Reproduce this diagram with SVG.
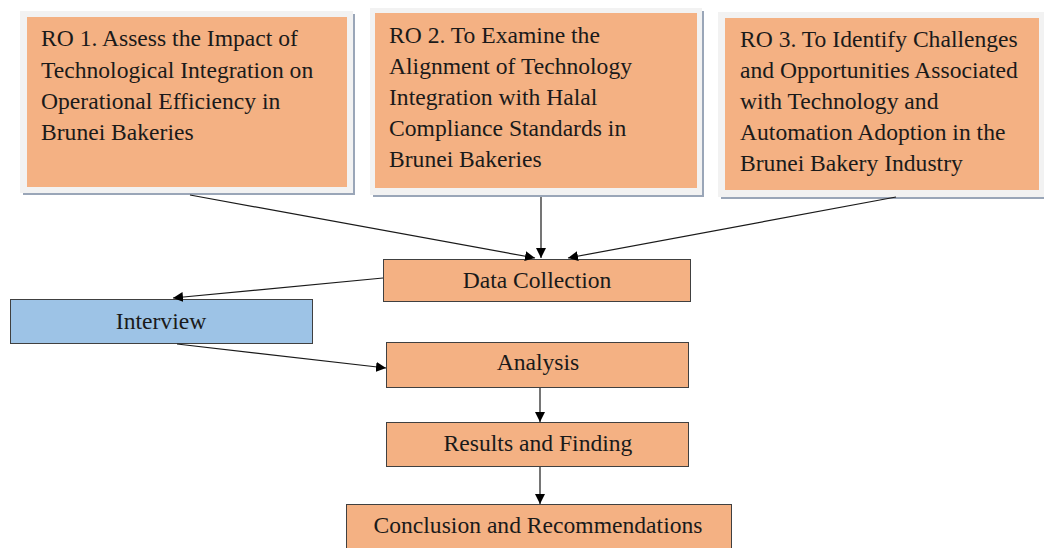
<svg xmlns="http://www.w3.org/2000/svg" width="1044" height="548" viewBox="0 0 1044 548">
<style>
.t{font-family:"Liberation Serif","Times New Roman",serif;font-size:23.6px;fill:#1a1a1a}
.c{text-anchor:middle}
.frame{fill:#f2f2f2}
.shadow{fill:#9aa6b8}
.ro{fill:#f4b183}
.box{fill:#f4b183;stroke:#404040;stroke-width:1}
.blue{fill:#9dc3e6;stroke:#404040;stroke-width:1}
.ln{stroke:#1a1a1a;stroke-width:1.2;fill:none;marker-end:url(#ah)}
</style>
<defs>
<marker id="ah" viewBox="0 0 10 10" refX="10" refY="5" markerWidth="10" markerHeight="10" markerUnits="userSpaceOnUse" orient="auto">
<path d="M0,0 L10,5 L0,10 z" fill="#000"/>
</marker>
</defs>
<rect width="1044" height="548" fill="#fff"/>
<g id="ro1">
<rect class="shadow" x="23" y="14" width="332" height="181"/>
<rect class="frame" x="20" y="11" width="333" height="182"/>
<rect class="ro" x="27" y="17" width="320" height="170"/>
<text class="t" x="41" y="46">RO 1. Assess the Impact of</text>
<text class="t" x="41" y="78">Technological Integration on</text>
<text class="t" x="41" y="109">Operational Efficiency in</text>
<text class="t" x="41" y="140">Brunei Bakeries</text>
</g>
<g id="ro2">
<rect class="shadow" x="373" y="11" width="331" height="186"/>
<rect class="frame" x="370" y="8" width="332" height="187"/>
<rect class="ro" x="375" y="13" width="322" height="175"/>
<text class="t" x="389" y="43">RO 2. To Examine the</text>
<text class="t" x="389" y="74">Alignment of Technology</text>
<text class="t" x="389" y="105">Integration with Halal</text>
<text class="t" x="389" y="136">Compliance Standards in</text>
<text class="t" x="389" y="167">Brunei Bakeries</text>
</g>
<g id="ro3">
<rect class="shadow" x="721" y="15" width="326" height="184"/>
<rect class="frame" x="718" y="12" width="330" height="185"/>
<rect class="ro" x="725" y="18" width="314" height="172"/>
<text class="t" x="740" y="47">RO 3. To Identify Challenges</text>
<text class="t" x="740" y="78">and Opportunities Associated</text>
<text class="t" x="740" y="109">with Technology and</text>
<text class="t" x="740" y="140">Automation Adoption in the</text>
<text class="t" x="740" y="171">Brunei Bakery Industry</text>
</g>
<g id="data">
<rect class="box" x="383.5" y="259.5" width="307" height="42"/>
<text class="t c" x="537" y="288">Data Collection</text>
</g>
<g id="interview">
<rect class="blue" x="10.5" y="299.5" width="302" height="44"/>
<text class="t c" x="161" y="329">Interview</text>
</g>
<g id="analysis">
<rect class="box" x="386.5" y="342.5" width="302" height="45"/>
<text class="t c" x="538" y="370">Analysis</text>
</g>
<g id="results">
<rect class="box" x="386.5" y="422.5" width="302" height="44"/>
<text class="t c" x="538" y="451">Results and Finding</text>
</g>
<g id="conclusion">
<rect class="box" x="346.5" y="504.5" width="385" height="50"/>
<text class="t c" x="538" y="533">Conclusion and Recommendations</text>
</g>
<g id="connectors">
<line class="ln" x1="190" y1="195" x2="535" y2="258"/>
<line class="ln" x1="541" y1="197" x2="541" y2="258"/>
<line class="ln" x1="896" y1="197" x2="568" y2="258"/>
<line class="ln" x1="383" y1="278" x2="173" y2="298"/>
<line class="ln" x1="177" y1="344" x2="386" y2="368"/>
<line class="ln" x1="540" y1="388" x2="540" y2="422"/>
<line class="ln" x1="540" y1="467" x2="540" y2="504"/>
</g>
</svg>
